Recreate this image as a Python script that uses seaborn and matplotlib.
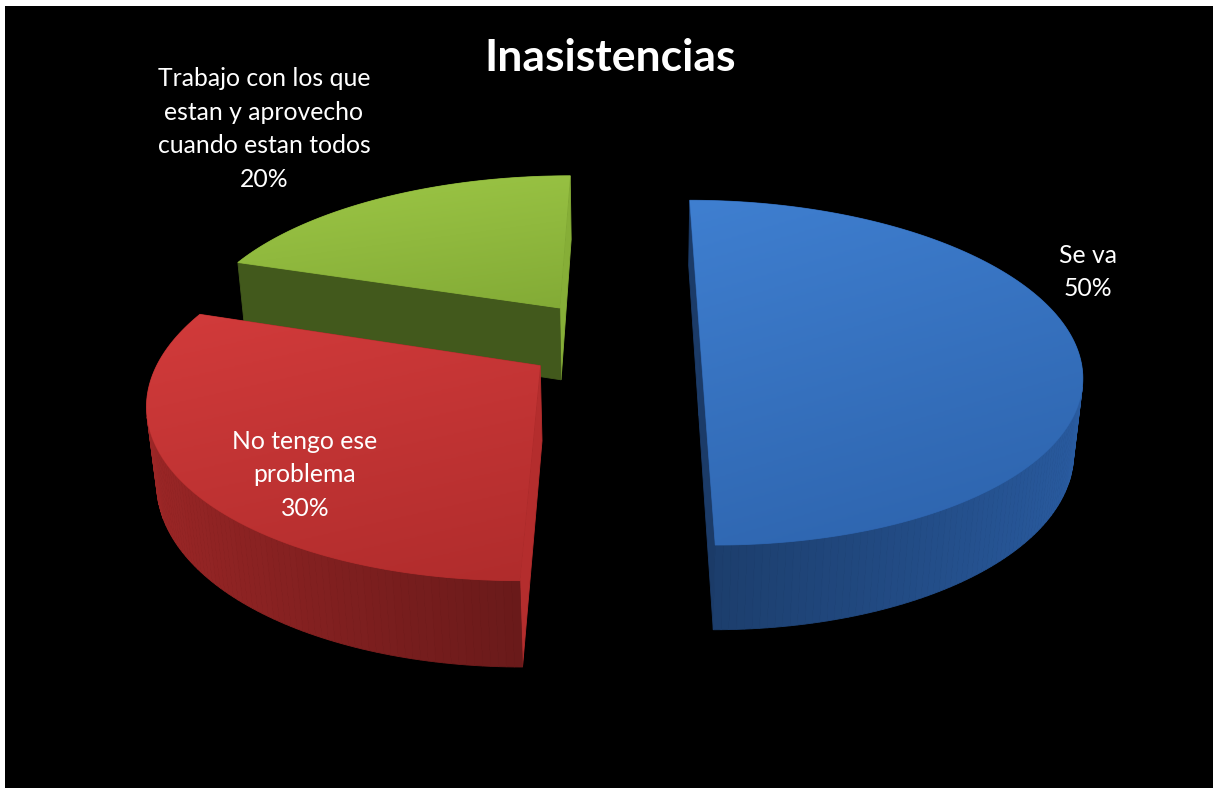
import numpy as np
import matplotlib
matplotlib.use("Agg")
import matplotlib.pyplot as plt
from matplotlib.patches import Polygon, Rectangle
from matplotlib.colors import LinearSegmentedColormap, to_rgb
import seaborn as sns

# ---- data ----
categories = ["Se va", "No tengo ese\nproblema", "Trabajo con los que\nestan y aprovecho\ncuando estan todos"]
percentages = [50, 30, 20]
chart_title = "Inasistencias"

# ---- styling ----
top_light = ["#3F7FD0", "#D23B3B", "#9DC746"]
top_dark = ["#2C62AB", "#B02C2C", "#83AB36"]
side_front = ["#1C3E6D", "#6A1A1A", "#455E1D"]
explode = [0.23, 0.237, 0.26]
label_xy = [(1088, 272), (305, 475), (264, 129)]

sns.set_theme(style="dark")
plt.rcParams["font.family"] = ["Lato", "DejaVu Sans"]

W, H = 1213, 788
fig = plt.figure(figsize=(W / 100, H / 100), dpi=100, facecolor="white")
# black chart area with a thin white margin on the top and left
fig.patches.append(Rectangle((5 / W, 0), 1, (H - 6) / H, transform=fig.transFigure,
                             facecolor="black", edgecolor="none", zorder=-10))
ax = fig.add_axes([5 / W, 0, (W - 5) / W, (H - 6) / H])
ax.set_facecolor("black")
ax.grid(False)
ax.set_xticks([])
ax.set_yticks([])
for s in ax.spines.values():
    s.set_visible(False)

# ---- simple perspective camera for the 3D pie ----
elev = np.radians(26.5)
cam_dist = 5.0
scale = 1870.0
cx_pix, cy_pix = 631.0, 341.8
pie_x = -0.045
thickness = 0.225
se, ce = np.sin(elev), np.cos(elev)
cam = np.array([0.0, -cam_dist * ce, cam_dist * se])


def project(P):
    P = np.atleast_2d(P)
    X, Y, Z = P[:, 0], P[:, 1], P[:, 2]
    yc = se * Y + ce * Z
    zc = cam_dist + ce * Y - se * Z
    return np.column_stack([cx_pix + scale * X / zc, cy_pix - scale * yc / zc])


def view_depth(P):
    P = np.atleast_2d(P)
    return np.mean(cam_dist + ce * P[:, 1] - se * P[:, 2])


def shade(col, f):
    return tuple(np.clip(np.array(to_rgb(col)) * f, 0, 1))


fracs = np.array(percentages, dtype=float) / sum(percentages)
bounds = np.concatenate([[0.0], np.cumsum(fracs) * 360.0])

slices = []
for i in range(len(percentages)):
    a, b = bounds[i], bounds[i + 1]
    mid = np.radians((a + b) / 2)
    c = np.array([pie_x + explode[i] * np.sin(mid), explode[i] * np.cos(mid)])
    slices.append((i, a, b, c))

# far slices first
slices.sort(key=lambda s: -s[3][1])

z = 2
for i, a, b, c in slices:
    n = max(3, int(b - a) + 1)
    t = np.radians(np.linspace(a, b, n))
    rim = np.column_stack([c[0] + np.sin(t), c[1] + np.cos(t)])
    top3 = np.column_stack([rim, np.zeros(n)])
    bot3 = np.column_stack([rim, np.full(n, -thickness)])
    ctop = np.array([c[0], c[1], 0.0])
    cbot = np.array([c[0], c[1], -thickness])

    faces = []
    # curved outer wall
    for j in range(n - 1):
        tm = 0.5 * (t[j] + t[j + 1])
        nrm = np.array([np.sin(tm), np.cos(tm), 0.0])
        quad = np.array([top3[j], top3[j + 1], bot3[j + 1], bot3[j]])
        if np.dot(nrm, cam - quad.mean(axis=0)) > 0:
            col = shade(side_front[i], 1 + 0.5 * abs(np.sin(tm)))
            faces.append((view_depth(quad), quad, col))
    # radial cut faces
    for ang, sign in ((np.radians(a), -1), (np.radians(b), 1)):
        nrm = sign * np.array([np.cos(ang), -np.sin(ang), 0.0])
        edge = np.array([c[0] + np.sin(ang), c[1] + np.cos(ang)])
        quad = np.array([ctop, [*edge, 0.0], [*edge, -thickness], cbot])
        if np.dot(nrm, cam - quad.mean(axis=0)) > 0:
            if nrm[0] > 0.5:
                col = shade(top_dark[i], 1.02)
            else:
                col = shade(side_front[i], 0.95)
            faces.append((view_depth(quad), quad, col))

    faces.sort(key=lambda f: -f[0])
    for _, quad, col in faces:
        ax.add_patch(Polygon(project(quad), closed=True, facecolor=col,
                             edgecolor=col, lw=0.6, zorder=z))
        z += 1

    # top surface with a soft gradient
    top_pts = project(np.vstack([ctop, top3]))
    poly = Polygon(top_pts, closed=True, facecolor=top_dark[i],
                   edgecolor=top_dark[i], lw=0.6, zorder=z)
    ax.add_patch(poly)
    z += 1
    x0, y0 = top_pts.min(axis=0)
    x1, y1 = top_pts.max(axis=0)
    gy, gx = np.mgrid[0:1:200j, 0:1:200j]
    grad = 0.75 * gy + 0.25 * gx
    cmap = LinearSegmentedColormap.from_list(f"top{i}", [top_light[i], top_dark[i]])
    im = ax.imshow(grad, cmap=cmap, extent=(x0, x1, y1, y0), origin="upper",
                   aspect="auto", zorder=z, interpolation="bilinear")
    im.set_clip_path(poly)
    z += 1

ax.set_xlim(5, W)
ax.set_ylim(H, 6)

# ---- labels ----
for (lx, ly), cat, pct in zip(label_xy, categories, percentages):
    ax.text(lx, ly, f"{cat}\n{pct}%", ha="center", va="center", color="white",
            fontsize=17.8, linespacing=1.55, zorder=z + 5)

ax.text(610, 58, chart_title, ha="center", va="center", color="white",
        fontsize=32, fontweight="bold", zorder=z + 5)

fig.savefig("out.png", dpi=100, facecolor="white")
